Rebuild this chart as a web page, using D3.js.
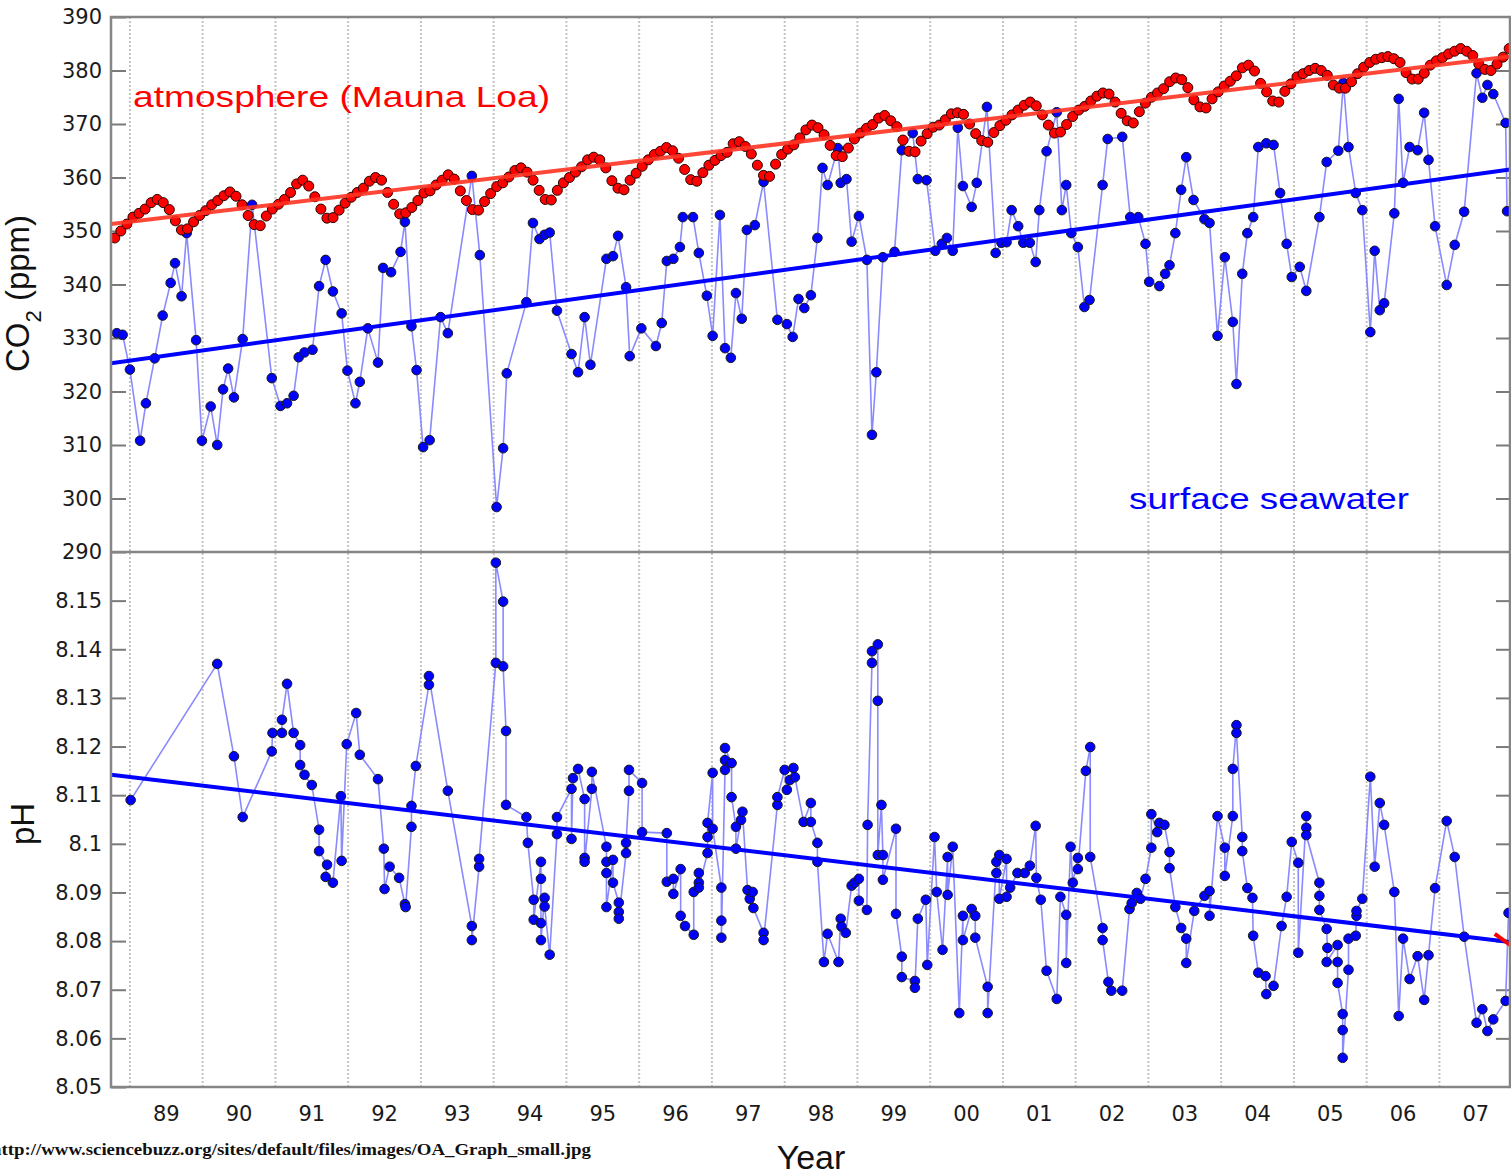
<!DOCTYPE html>
<html>
<head>
<meta charset="utf-8">
<script src="https://cdn.jsdelivr.net/npm/d3@7"></script>
<style>
  body { margin: 0; background: #fff; }
  svg { display: block; }
</style>
</head>
<body>
<div id="chart"></div>
<script>
// mauna loa monthly co2 (ppm), one row per year, jan..dec
var maunaLoaYears = [1988, 1989, 1990, 1991, 1992, 1993, 1994, 1995, 1996, 1997,
                     1998, 1999, 2000, 2001, 2002, 2003, 2004, 2005, 2006, 2007];
var maunaLoaMonthly = [
  [null, null, null, null, null, null, null, null, null, 348.7, 350.0, 351.3],
  [352.6, 353.3, 354.1, 355.3, 355.9, 355.3, 354.0, 351.9, 350.2, 350.4, 351.7, 352.9],
  [353.8, 354.9, 355.7, 356.6, 357.3, 356.5, 354.9, 352.9, 351.2, 351.0, 352.8, 354.1],
  [355.0, 355.9, 357.2, 358.8, 359.5, 358.4, 356.4, 354.1, 352.4, 352.5, 353.9, 355.2],
  [356.3, 357.2, 358.0, 359.3, 360.0, 359.5, 357.2, 355.0, 353.2, 353.4, 354.4, 355.7],
  [357.1, 357.5, 358.6, 359.5, 360.5, 359.7, 357.5, 355.7, 354.0, 353.9, 355.5, 357.0],
  [358.3, 359.0, 360.1, 361.3, 361.8, 361.0, 359.5, 357.6, 355.9, 355.8, 357.6, 359.0],
  [360.0, 361.0, 362.0, 363.3, 363.8, 363.3, 361.8, 359.4, 358.0, 357.7, 359.5, 360.8],
  [362.1, 363.3, 364.3, 364.9, 365.6, 365.0, 363.6, 361.5, 359.6, 359.3, 360.9, 362.3],
  [363.2, 364.1, 364.7, 366.3, 366.7, 365.8, 364.4, 362.3, 360.4, 360.2, 362.5, 364.3],
  [365.3, 366.1, 367.4, 368.9, 369.8, 369.3, 368.0, 366.0, 364.1, 363.9, 365.5, 367.2],
  [368.3, 369.2, 369.9, 371.1, 371.6, 370.6, 369.5, 367.0, 364.9, 364.8, 366.8, 368.2],
  [369.4, 369.8, 370.8, 371.9, 372.1, 371.8, 370.0, 368.2, 366.9, 366.6, 368.4, 369.7],
  [370.7, 371.7, 372.6, 373.5, 374.1, 373.4, 371.7, 369.8, 368.3, 368.5, 369.9, 371.4],
  [372.6, 373.3, 374.3, 375.2, 375.8, 375.6, 374.1, 372.0, 370.6, 370.2, 372.3, 373.9],
  [375.0, 375.8, 376.6, 377.9, 378.6, 378.3, 376.8, 374.5, 373.2, 373.0, 374.7, 376.0],
  [377.1, 378.0, 379.0, 380.5, 381.0, 379.9, 377.6, 376.0, 374.3, 374.1, 376.1, 377.5],
  [378.8, 379.4, 380.0, 380.4, 380.0, 379.1, 377.3, 376.7, 376.7, 377.9, 379.4, 380.6],
  [381.5, 382.1, 382.4, 382.6, 382.2, 381.5, 379.6, 378.4, 378.4, 379.5, 381.0, 381.8],
  [382.4, 383.1, 383.6, 384.1, 383.6, 382.8, 381.2, 380.2, 380.0, 381.2, 382.5, 384.1]
];

// surface seawater pco2 (ppm): [decimal year, value]
var seawaterCO2 = [
  [1988.82, 330.9], [1988.90, 330.6], [1989.00, 324.1], [1989.14, 310.8], [1989.22, 317.8],
  [1989.34, 326.2], [1989.45, 334.2], [1989.56, 340.3], [1989.62, 344.0], [1989.71, 337.8],
  [1989.78, 349.6], [1989.91, 329.6], [1989.99, 310.8], [1990.11, 317.2], [1990.20, 310.0],
  [1990.28, 320.4], [1990.35, 324.3], [1990.43, 318.9], [1990.55, 329.8], [1990.68, 354.9],
  [1990.95, 322.5], [1991.07, 317.3], [1991.16, 317.8], [1991.25, 319.2], [1991.32, 326.4],
  [1991.40, 327.3], [1991.51, 327.8], [1991.60, 339.7], [1991.69, 344.6], [1991.79, 338.7],
  [1991.91, 334.6], [1991.99, 323.9], [1992.10, 317.8], [1992.16, 321.8], [1992.27, 331.8],
  [1992.41, 325.4], [1992.48, 343.1], [1992.59, 342.3], [1992.72, 346.1], [1992.78, 351.7],
  [1992.87, 332.2], [1992.94, 324.0], [1993.03, 309.6], [1993.12, 310.9], [1993.27, 333.9],
  [1993.37, 330.9], [1993.70, 360.3], [1993.81, 345.5], [1994.04, 298.4], [1994.13, 309.4],
  [1994.18, 323.4], [1994.45, 336.7], [1994.54, 351.5], [1994.63, 348.5], [1994.70, 349.3],
  [1994.77, 349.7], [1994.87, 335.1], [1995.07, 327.0], [1995.16, 323.6], [1995.25, 333.9],
  [1995.33, 325.0], [1995.55, 344.8], [1995.64, 345.3], [1995.71, 349.1], [1995.82, 339.5],
  [1995.87, 326.6], [1996.03, 331.8], [1996.23, 328.5], [1996.31, 332.8], [1996.38, 344.4],
  [1996.47, 344.8], [1996.56, 347.0], [1996.60, 352.6], [1996.74, 352.6], [1996.82, 345.9],
  [1996.93, 337.9], [1997.01, 330.4], [1997.11, 353.0], [1997.18, 328.1], [1997.26, 326.3],
  [1997.33, 338.4], [1997.41, 333.6], [1997.48, 350.2], [1997.59, 351.1], [1997.71, 359.2],
  [1997.90, 333.4], [1998.03, 332.6], [1998.11, 330.2], [1998.19, 337.3], [1998.27, 335.6],
  [1998.36, 338.0], [1998.45, 348.7], [1998.52, 361.8], [1998.59, 358.6], [1998.73, 365.5],
  [1998.77, 359.0], [1998.85, 359.7], [1998.92, 348.0], [1999.02, 352.8], [1999.13, 344.6],
  [1999.20, 311.9], [1999.26, 323.6], [1999.35, 345.1], [1999.51, 346.1], [1999.61, 365.1],
  [1999.76, 368.3], [1999.83, 359.7], [1999.95, 359.5], [2000.07, 346.3], [2000.16, 347.6],
  [2000.23, 348.7], [2000.31, 346.3], [2000.38, 369.3], [2000.45, 358.4], [2000.57, 354.5],
  [2000.64, 359.0], [2000.78, 373.2], [2000.90, 345.9], [2000.98, 347.8], [2001.05, 347.9],
  [2001.12, 353.9], [2001.21, 350.9], [2001.28, 347.8], [2001.37, 347.8], [2001.45, 344.2],
  [2001.50, 353.9], [2001.60, 364.9], [2001.74, 372.2], [2001.81, 353.9], [2001.87, 358.6],
  [2001.94, 349.6], [2002.03, 347.0], [2002.12, 335.8], [2002.19, 337.1], [2002.37, 358.6],
  [2002.44, 367.2], [2002.64, 367.6], [2002.75, 352.6], [2002.86, 352.6], [2002.96, 347.6],
  [2003.01, 340.5], [2003.15, 339.7], [2003.23, 342.0], [2003.29, 343.6], [2003.37, 349.6],
  [2003.45, 357.7], [2003.52, 363.8], [2003.62, 355.8], [2003.77, 352.2], [2003.84, 351.5],
  [2003.95, 330.4], [2004.05, 345.1], [2004.16, 333.0], [2004.21, 321.4], [2004.29, 342.0],
  [2004.36, 349.6], [2004.44, 352.6], [2004.51, 365.7], [2004.62, 366.4], [2004.72, 366.1],
  [2004.81, 357.1], [2004.90, 347.6], [2004.97, 341.4], [2005.08, 343.3], [2005.17, 338.8],
  [2005.35, 352.6], [2005.45, 362.9], [2005.61, 365.0], [2005.68, 377.7], [2005.75, 365.7],
  [2005.85, 357.1], [2005.94, 353.9], [2006.05, 331.1], [2006.11, 346.3], [2006.18, 335.2],
  [2006.24, 336.5], [2006.38, 353.3], [2006.44, 374.7], [2006.50, 359.0], [2006.59, 365.7],
  [2006.70, 365.1], [2006.79, 372.1], [2006.85, 363.3], [2006.94, 350.9], [2007.10, 339.9],
  [2007.21, 347.4], [2007.34, 353.6], [2007.51, 379.5], [2007.59, 374.9], [2007.66, 377.3],
  [2007.74, 375.6], [2007.91, 370.2], [2007.93, 353.7]
];

// surface seawater ph: [decimal year, value]
var seawaterPH = [
  [1989.01, 8.1090], [1990.20, 8.1370], [1990.43, 8.1180], [1990.55, 8.1055], [1990.95, 8.1190],
  [1990.96, 8.1228], [1991.09, 8.1228], [1991.09, 8.1255], [1991.16, 8.1329], [1991.25, 8.1228],
  [1991.34, 8.1203], [1991.34, 8.1162], [1991.40, 8.1142], [1991.50, 8.1121], [1991.60, 8.1029],
  [1991.60, 8.0985], [1991.71, 8.0957], [1991.69, 8.0932], [1991.79, 8.0920], [1991.90, 8.1098],
  [1991.91, 8.0965], [1991.98, 8.1205], [1992.11, 8.1269], [1992.16, 8.1183], [1992.41, 8.1133],
  [1992.49, 8.0990], [1992.50, 8.0907], [1992.57, 8.0953], [1992.70, 8.0930], [1992.78, 8.0876],
  [1992.79, 8.0870], [1992.87, 8.1035], [1992.87, 8.1078], [1992.93, 8.1160], [1993.11, 8.1327],
  [1993.11, 8.1345], [1993.37, 8.1109], [1993.70, 8.0831], [1993.70, 8.0802], [1993.80, 8.0953],
  [1993.80, 8.0969], [1994.03, 8.1372], [1994.03, 8.1578], [1994.13, 8.1498], [1994.13, 8.1365],
  [1994.17, 8.1232], [1994.17, 8.1080], [1994.45, 8.1055], [1994.47, 8.1002], [1994.55, 8.0885],
  [1994.55, 8.0844], [1994.65, 8.0963], [1994.65, 8.0928], [1994.65, 8.0837], [1994.65, 8.0802],
  [1994.70, 8.0889], [1994.70, 8.0871], [1994.77, 8.0772], [1994.87, 8.1020], [1994.87, 8.1055],
  [1995.07, 8.1113], [1995.07, 8.1010], [1995.09, 8.1135], [1995.16, 8.1154], [1995.25, 8.1092],
  [1995.25, 8.0971], [1995.25, 8.0963], [1995.35, 8.1113], [1995.35, 8.1148], [1995.55, 8.0994],
  [1995.55, 8.0963], [1995.55, 8.0940], [1995.55, 8.0870], [1995.64, 8.0967], [1995.64, 8.0920],
  [1995.72, 8.0879], [1995.72, 8.0860], [1995.72, 8.0846], [1995.82, 8.0981], [1995.82, 8.1002],
  [1995.86, 8.1109], [1995.86, 8.1152], [1996.04, 8.1125], [1996.04, 8.1024], [1996.38, 8.1022],
  [1996.38, 8.0922], [1996.47, 8.0928], [1996.47, 8.0897], [1996.57, 8.0948], [1996.57, 8.0852],
  [1996.63, 8.0831], [1996.75, 8.0813], [1996.75, 8.0901], [1996.82, 8.0940], [1996.82, 8.0920],
  [1996.82, 8.0910], [1996.94, 8.0981], [1996.94, 8.1014], [1996.94, 8.1043], [1997.01, 8.1146],
  [1997.01, 8.1031], [1997.13, 8.0910], [1997.13, 8.0842], [1997.13, 8.0807], [1997.18, 8.1152],
  [1997.18, 8.1172], [1997.18, 8.1197], [1997.27, 8.1166], [1997.27, 8.1096], [1997.33, 8.1035],
  [1997.33, 8.0990], [1997.40, 8.1049], [1997.42, 8.1066], [1997.49, 8.0905], [1997.52, 8.0887],
  [1997.56, 8.0901], [1997.57, 8.0868], [1997.71, 8.0817], [1997.71, 8.0802], [1997.90, 8.1080],
  [1997.90, 8.1096], [1998.00, 8.1152], [1998.03, 8.1111], [1998.07, 8.1131], [1998.12, 8.1156],
  [1998.14, 8.1137], [1998.26, 8.1045], [1998.36, 8.1084], [1998.36, 8.1045], [1998.45, 8.1002],
  [1998.45, 8.0963], [1998.54, 8.0757], [1998.59, 8.0815], [1998.74, 8.0757], [1998.77, 8.0846],
  [1998.78, 8.0830], [1998.84, 8.0817], [1998.92, 8.0914], [1998.96, 8.0920], [1999.02, 8.0928],
  [1999.02, 8.0883], [1999.13, 8.0864], [1999.14, 8.1039], [1999.20, 8.1372], [1999.20, 8.1396],
  [1999.28, 8.1410], [1999.28, 8.1294], [1999.28, 8.0977], [1999.33, 8.1080], [1999.35, 8.0977],
  [1999.35, 8.0926], [1999.53, 8.1031], [1999.53, 8.0856], [1999.61, 8.0768], [1999.61, 8.0726],
  [1999.79, 8.0718], [1999.79, 8.0704], [1999.83, 8.0846], [1999.94, 8.0885], [1999.96, 8.0751],
  [2000.06, 8.1014], [2000.09, 8.0901], [2000.17, 8.0782], [2000.24, 8.0973], [2000.24, 8.0895],
  [2000.31, 8.0994], [2000.40, 8.0652], [2000.45, 8.0852], [2000.45, 8.0802], [2000.57, 8.0866],
  [2000.62, 8.0852], [2000.62, 8.0807], [2000.79, 8.0706], [2000.79, 8.0652], [2000.91, 8.0963],
  [2000.91, 8.0940], [2000.95, 8.0977], [2000.95, 8.0887], [2001.05, 8.0969], [2001.05, 8.0891],
  [2001.10, 8.0910], [2001.20, 8.0940], [2001.30, 8.0940], [2001.37, 8.0955], [2001.45, 8.1037],
  [2001.46, 8.0930], [2001.52, 8.0885], [2001.60, 8.0739], [2001.74, 8.0681], [2001.79, 8.0891],
  [2001.87, 8.0854], [2001.87, 8.0755], [2001.93, 8.0994], [2001.96, 8.0920], [2002.03, 8.0971],
  [2002.03, 8.0948], [2002.14, 8.1150], [2002.20, 8.1199], [2002.20, 8.0973], [2002.37, 8.0827],
  [2002.37, 8.0802], [2002.45, 8.0716], [2002.49, 8.0698], [2002.64, 8.0698], [2002.74, 8.0866],
  [2002.77, 8.0878], [2002.84, 8.0899], [2002.89, 8.0887], [2002.96, 8.0928], [2003.04, 8.0992],
  [2003.04, 8.1061], [2003.12, 8.1024], [2003.15, 8.1043], [2003.22, 8.1039], [2003.29, 8.0983],
  [2003.29, 8.0950], [2003.37, 8.0870], [2003.45, 8.0827], [2003.52, 8.0805], [2003.52, 8.0755],
  [2003.63, 8.0862], [2003.77, 8.0893], [2003.84, 8.0903], [2003.84, 8.0852], [2003.95, 8.1057],
  [2004.05, 8.0992], [2004.05, 8.0934], [2004.16, 8.1057], [2004.16, 8.1154], [2004.21, 8.1244],
  [2004.21, 8.1228], [2004.29, 8.1014], [2004.29, 8.0985], [2004.36, 8.0909], [2004.43, 8.0889],
  [2004.44, 8.0811], [2004.51, 8.0735], [2004.61, 8.0728], [2004.62, 8.0691], [2004.72, 8.0708],
  [2004.83, 8.0831], [2004.90, 8.0891], [2004.97, 8.1004], [2005.06, 8.0961], [2005.06, 8.0776],
  [2005.17, 8.1057], [2005.17, 8.1033], [2005.17, 8.1018], [2005.35, 8.0920], [2005.35, 8.0893],
  [2005.35, 8.0864], [2005.45, 8.0825], [2005.46, 8.0786], [2005.45, 8.0757], [2005.60, 8.0792],
  [2005.60, 8.0757], [2005.60, 8.0714], [2005.67, 8.0650], [2005.67, 8.0617], [2005.67, 8.0560],
  [2005.75, 8.0741], [2005.75, 8.0805], [2005.85, 8.0811], [2005.86, 8.0852], [2005.86, 8.0862],
  [2005.94, 8.0887], [2006.05, 8.1138], [2006.11, 8.0953], [2006.18, 8.1084], [2006.24, 8.1039],
  [2006.38, 8.0901], [2006.44, 8.0646], [2006.50, 8.0805], [2006.59, 8.0722], [2006.70, 8.0769],
  [2006.79, 8.0679], [2006.85, 8.0771], [2006.94, 8.0909], [2007.10, 8.1047], [2007.21, 8.0973],
  [2007.34, 8.0809], [2007.51, 8.0632], [2007.59, 8.0660], [2007.66, 8.0615], [2007.74, 8.0639],
  [2007.91, 8.0677], [2007.95, 8.0858]
];

// linear trends, end points
var atmosTrend    = [[1988.74, 351.3], [2007.97, 382.6]];
var seawaterTrend = [[1988.74, 325.3], [2007.97, 361.5]];
var phTrend       = [[1988.74, 8.1142], [2007.97, 8.0798]];
var phRedStub     = [[2007.76, 8.0815], [2007.99, 8.0790]];

// ticks
var co2Ticks  = [290, 300, 310, 320, 330, 340, 350, 360, 370, 380, 390];
var phTicks   = [8.05, 8.06, 8.07, 8.08, 8.09, 8.1, 8.11, 8.12, 8.13, 8.14, 8.15];
var gridYears = d3.range(1989, 2008);
var yearLabels = ["89", "90", "91", "92", "93", "94", "95", "96", "97", "98",
                  "99", "00", "01", "02", "03", "04", "05", "06", "07"];

// width and height
var chart_width  = 1511;
var chart_height = 1175;

var svg = d3.select("#chart")
  .append("svg")
  .attr("width", chart_width)
  .attr("height", chart_height);

var x    = d3.scaleLinear().domain([1988.74, 2007.97]).range([111, 1510]);
var yCO2 = d3.scaleLinear().domain([290, 390]).range([552, 17]);
var yPH  = d3.scaleLinear().domain([8.05, 8.16]).range([1087, 552]);

var plotLeft = 111, plotRight = 1510, plotTop = 17, plotMid = 552, plotBottom = 1087;

// clip each panel
var defs = svg.append("defs");
defs.append("clipPath").attr("id", "clipTop").append("rect")
  .attr("x", plotLeft).attr("y", plotTop)
  .attr("width", plotRight - plotLeft).attr("height", plotMid - plotTop);
defs.append("clipPath").attr("id", "clipBot").append("rect")
  .attr("x", plotLeft).attr("y", plotMid)
  .attr("width", plotRight - plotLeft).attr("height", plotBottom - plotMid);

// dotted year grid
svg.append("g").selectAll("line")
  .data(gridYears)
  .enter()
  .append("line")
  .attr("x1", function(d){ return x(d); })
  .attr("x2", function(d){ return x(d); })
  .attr("y1", plotTop)
  .attr("y2", plotBottom)
  .attr("stroke", "#c4c4c4")
  .attr("stroke-width", 2)
  .attr("stroke-dasharray", "2,2");

// axes (ticks pointing inward)
function styleAxis(g){
  g.select(".domain").remove();
  g.selectAll(".tick line").attr("stroke", "#7a7a7a").attr("stroke-width", 2);
  g.selectAll(".tick text")
    .attr("fill", "#1a1a1a")
    .style("font-family", "'DejaVu Sans', sans-serif")
    .style("font-size", "21px");
}

svg.append("g")
  .attr("transform", "translate(" + plotLeft + ",0)")
  .call(d3.axisLeft(yCO2).tickValues(co2Ticks).tickSize(-15).tickPadding(9).tickFormat(d3.format("d")))
  .call(styleAxis);

svg.append("g")
  .attr("transform", "translate(" + plotLeft + ",0)")
  .call(d3.axisLeft(yPH).tickValues(phTicks).tickSize(-15).tickPadding(9)
    .tickFormat(function(d){ return String(+d.toFixed(2)); }))
  .call(styleAxis);

svg.append("g")
  .attr("transform", "translate(" + plotRight + ",0)")
  .call(d3.axisRight(yCO2).tickValues(co2Ticks.slice(1, -1)).tickSize(-14).tickFormat(""))
  .call(styleAxis);

svg.append("g")
  .attr("transform", "translate(" + plotRight + ",0)")
  .call(d3.axisRight(yPH).tickValues(phTicks.slice(1)).tickSize(-14).tickFormat(""))
  .call(styleAxis);

// year labels
svg.append("g").selectAll("text")
  .data(gridYears)
  .enter()
  .append("text")
  .attr("x", function(d){ return x(d + 0.5); })
  .attr("y", 1121)
  .attr("text-anchor", "middle")
  .attr("fill", "#1a1a1a")
  .style("font-family", "'DejaVu Sans', sans-serif")
  .style("font-size", "21px")
  .text(function(d, i){ return yearLabels[i]; });

// flatten the monthly table into points
var maunaLoa = [];
maunaLoaYears.forEach(function(yr, i){
  maunaLoaMonthly[i].forEach(function(v, m){
    if (v !== null) maunaLoa.push([yr + (m + 0.5) / 12, v]);
  });
});

var lineCO2 = d3.line().x(function(d){ return x(d[0]); }).y(function(d){ return yCO2(d[1]); });
var linePH  = d3.line().x(function(d){ return x(d[0]); }).y(function(d){ return yPH(d[1]); });

// top panel
var topG = svg.append("g").attr("clip-path", "url(#clipTop)");

topG.append("path")
  .datum(seawaterCO2)
  .attr("d", lineCO2)
  .attr("fill", "none")
  .attr("stroke", "#8a8aff")
  .attr("stroke-width", 1.6);

topG.append("g").selectAll("circle")
  .data(seawaterCO2)
  .enter()
  .append("circle")
  .attr("cx", function(d){ return x(d[0]); })
  .attr("cy", function(d){ return yCO2(d[1]); })
  .attr("r", 4.8)
  .attr("fill", "#0000ff")
  .attr("stroke", "#1a1a1a")
  .attr("stroke-width", 1);

topG.append("path")
  .datum(seawaterTrend)
  .attr("d", lineCO2)
  .attr("stroke", "#0000ff")
  .attr("stroke-width", 4);

topG.append("g").selectAll("circle")
  .data(maunaLoa)
  .enter()
  .append("circle")
  .attr("cx", function(d){ return x(d[0]); })
  .attr("cy", function(d){ return yCO2(d[1]); })
  .attr("r", 5)
  .attr("fill", "#ff0000")
  .attr("stroke", "#2a0000")
  .attr("stroke-width", 1);

topG.append("path")
  .datum(atmosTrend)
  .attr("d", lineCO2)
  .attr("stroke", "#ff3322")
  .attr("stroke-opacity", 0.9)
  .attr("stroke-width", 4);

// bottom panel
var botG = svg.append("g").attr("clip-path", "url(#clipBot)");

botG.append("path")
  .datum(seawaterPH)
  .attr("d", linePH)
  .attr("fill", "none")
  .attr("stroke", "#8a8aff")
  .attr("stroke-width", 1.6);

botG.append("g").selectAll("circle")
  .data(seawaterPH)
  .enter()
  .append("circle")
  .attr("cx", function(d){ return x(d[0]); })
  .attr("cy", function(d){ return yPH(d[1]); })
  .attr("r", 4.8)
  .attr("fill", "#0000ff")
  .attr("stroke", "#1a1a1a")
  .attr("stroke-width", 1);

botG.append("path")
  .datum(phTrend)
  .attr("d", linePH)
  .attr("stroke", "#0000ff")
  .attr("stroke-width", 4);

botG.append("path")
  .datum(phRedStub)
  .attr("d", linePH)
  .attr("stroke", "#ff0000")
  .attr("stroke-width", 4);

// frame on top of everything
var frame = svg.append("g")
  .attr("stroke", "#858585")
  .attr("stroke-width", 2.5)
  .attr("fill", "none");
frame.append("rect")
  .attr("x", plotLeft).attr("y", plotTop)
  .attr("width", plotRight - plotLeft).attr("height", plotBottom - plotTop);
frame.append("line")
  .attr("x1", plotLeft).attr("x2", plotRight)
  .attr("y1", plotMid).attr("y2", plotMid);

// labels inside the plot
svg.append("text")
  .attr("x", 133).attr("y", 107)
  .attr("fill", "#ff0000")
  .attr("textLength", 417)
  .attr("lengthAdjust", "spacingAndGlyphs")
  .style("font-family", "'Liberation Sans', Arial, sans-serif")
  .style("font-size", "30px")
  .text("atmosphere (Mauna Loa)");

svg.append("text")
  .attr("x", 1129).attr("y", 509)
  .attr("fill", "#0000ff")
  .attr("textLength", 280)
  .attr("lengthAdjust", "spacingAndGlyphs")
  .style("font-family", "'Liberation Sans', Arial, sans-serif")
  .style("font-size", "30px")
  .text("surface seawater");

// axis titles
var co2Label = svg.append("text")
  .attr("transform", "translate(29,372) rotate(-90)")
  .attr("fill", "#111")
  .style("font-family", "'Liberation Sans', Arial, sans-serif")
  .style("font-size", "33px");
co2Label.append("tspan").text("CO");
co2Label.append("tspan").attr("dy", 12).style("font-size", "22px").text("2");
co2Label.append("tspan").attr("dy", -12).text(" (ppm)");

svg.append("text")
  .attr("transform", "translate(34,845) rotate(-90)")
  .attr("fill", "#111")
  .style("font-family", "'Liberation Sans', Arial, sans-serif")
  .style("font-size", "33px")
  .text("pH");

svg.append("text")
  .attr("x", 811).attr("y", 1169)
  .attr("text-anchor", "middle")
  .attr("fill", "#111")
  .style("font-family", "'Liberation Sans', Arial, sans-serif")
  .style("font-size", "34px")
  .text("Year");

// source line
svg.append("text")
  .attr("x", -9).attr("y", 1155)
  .attr("fill", "#111")
  .attr("textLength", 600)
  .attr("lengthAdjust", "spacingAndGlyphs")
  .style("font-family", "'Liberation Serif', 'Times New Roman', serif")
  .style("font-weight", "bold")
  .style("font-size", "17px")
  .text("http://www.sciencebuzz.org/sites/default/files/images/OA_Graph_small.jpg");
</script>
</body>
</html>
